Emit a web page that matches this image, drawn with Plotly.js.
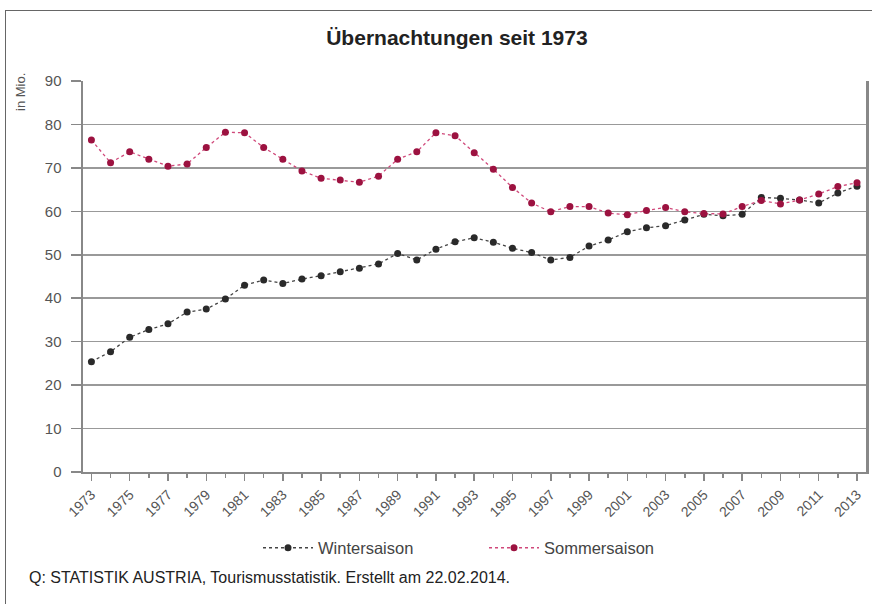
<!DOCTYPE html>
<html>
<head>
<meta charset="utf-8">
<script src="https://cdn.plot.ly/plotly-3.0.1.min.js"></script>
<style>
  html, body { margin: 0; padding: 0; background: #fff; }
  #wrap { position: relative; width: 872px; height: 604px; }
  #chart { position: absolute; left: 0; top: 0; width: 872px; height: 604px; }
  #frame { position: absolute; left: 5px; top: 10px; width: 867px; height: 594px;
           border-left: 1px solid #666; border-top: 1px solid #666; pointer-events: none; }
</style>
</head>
<body>
<div id="wrap">
  <div id="chart"></div>
  <div id="frame"></div>
</div>
<script>
const years = [1973,1974,1975,1976,1977,1978,1979,1980,1981,1982,
               1983,1984,1985,1986,1987,1988,1989,1990,1991,1992,
               1993,1994,1995,1996,1997,1998,1999,2000,2001,2002,
               2003,2004,2005,2006,2007,2008,2009,2010,2011,2012,2013];

const winter = [25.4,27.7,31.0,32.8,34.1,36.8,37.5,39.8,43.0,44.2,
                43.4,44.4,45.2,46.1,46.9,47.9,50.3,48.8,51.3,53.0,
                53.9,52.9,51.5,50.5,48.8,49.4,52.0,53.4,55.3,56.2,
                56.7,58.0,59.3,59.0,59.3,63.2,63.0,62.6,61.9,64.2,65.8];

const summer = [76.4,71.2,73.7,72.0,70.4,70.9,74.7,78.2,78.1,74.7,
                72.0,69.3,67.6,67.2,66.7,68.1,72.0,73.7,78.1,77.4,
                73.5,69.7,65.5,61.9,59.9,61.1,61.1,59.6,59.2,60.2,
                60.9,59.9,59.5,59.4,61.1,62.5,61.7,62.6,64.0,65.7,66.6];

const seriesNames = ["Wintersaison", "Sommersaison"];
const tickYears = [1973,1975,1977,1979,1981,1983,1985,1987,1989,1991,1993,
                   1995,1997,1999,2001,2003,2005,2007,2009,2011,2013];
const tickLabels = tickYears.map(String);
const yTicks = [0,10,20,30,40,50,60,70,80,90];

const fontFam = "Liberation Sans, Arial, sans-serif";

const traces = [
  {
    x: years, y: winter, name: seriesNames[0], type: "scatter", mode: "lines+markers",
    line: { color: "#444", width: 1.3, dash: "3px,3px" },
    marker: { color: "#2a2a2a", size: 7 }
  },
  {
    x: years, y: summer, name: seriesNames[1], type: "scatter", mode: "lines+markers",
    line: { color: "#d0487a", width: 1.3, dash: "3px,3px" },
    marker: { color: "#9c1240", size: 7 }
  }
];

const layout = {
  width: 872, height: 604,
  margin: { l: 83, r: 6, t: 81, b: 132 },
  paper_bgcolor: "#fff", plot_bgcolor: "#fff",
  font: { family: fontFam, color: "#555", size: 13 },
  title: {
    text: "<b>Übernachtungen seit 1973</b>",
    font: { family: fontFam, size: 21, color: "#222" },
    x: 0.524, xref: "container", xanchor: "center",
    y: 1 - 38/604, yref: "container", yanchor: "middle"
  },
  xaxis: {
    range: [1972.56, 2013.47],
    tickmode: "array", tickvals: tickYears, ticktext: tickLabels,
    tickangle: -45,
    ticks: "outside", ticklen: 7, tickwidth: 1.5, tickcolor: "#888",
    minor: { dtick: 1, tick0: 1973, ticks: "outside", ticklen: 4, tickwidth: 1.5, tickcolor: "#888", showgrid: false },
    showgrid: false, zeroline: false,
    showline: true, linecolor: "#888", linewidth: 2,
    tickfont: { size: 14, color: "#555" },
    fixedrange: true
  },
  yaxis: {
    range: [0, 90],
    tickmode: "array", tickvals: yTicks,
    ticks: "outside", ticklen: 10, tickwidth: 1.5, tickcolor: "#888",
    ticklabelstandoff: 6,
    showgrid: true, gridcolor: "#999", gridwidth: 1.6,
    zeroline: false,
    showline: true, mirror: true, linecolor: "#888", linewidth: 2.5,
    tickfont: { size: 15, color: "#555" },
    fixedrange: true
  },
  showlegend: true,
  legend: {
    orientation: "h",
    x: 258/872, xref: "container", xanchor: "left",
    y: 1 - 548/604, yref: "container", yanchor: "middle",
    itemwidth: 50,
    entrywidth: 161, entrywidthmode: "pixels",
    font: { size: 16.5, color: "#444", family: fontFam },
    bgcolor: "rgba(0,0,0,0)"
  },
  annotations: [
    {
      text: "in Mio.", xref: "paper", yref: "paper",
      x: -63/783, y: 1 - 11/391, xanchor: "center", yanchor: "middle",
      textangle: -90, showarrow: false,
      font: { size: 13, color: "#555", family: fontFam }
    },
    {
      text: "Q: STATISTIK AUSTRIA, Tourismusstatistik. Erstellt am 22.02.2014.",
      xref: "paper", yref: "paper",
      x: -56/783, y: -105/391, xanchor: "left", yanchor: "middle",
      showarrow: false,
      font: { size: 16, color: "#222", family: fontFam }
    }
  ]
};

Plotly.newPlot("chart", traces, layout, { displayModeBar: false, staticPlot: true });
</script>
</body>
</html>
